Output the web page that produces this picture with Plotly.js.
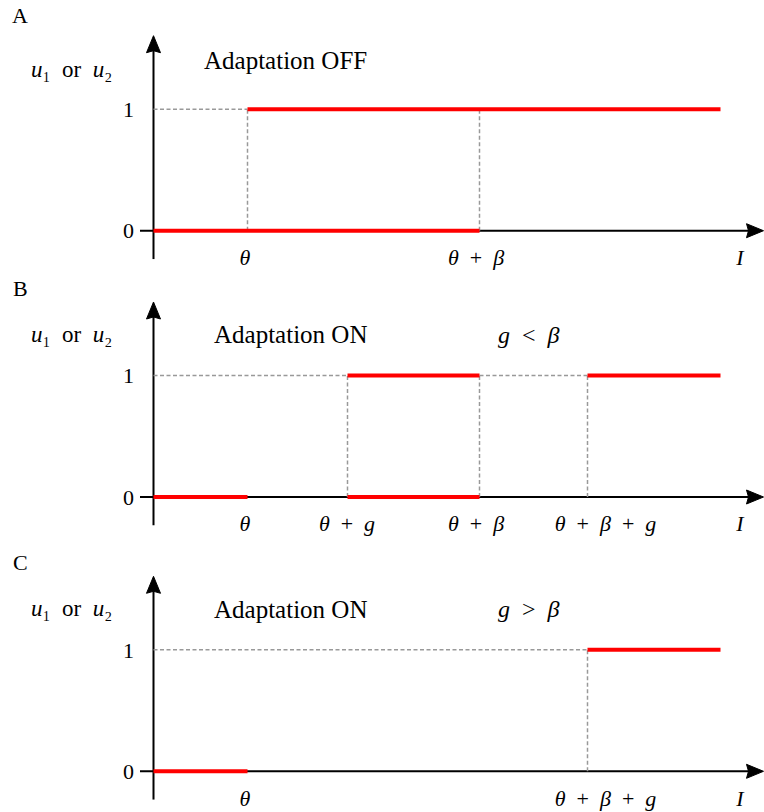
<!DOCTYPE html>
<html>
<head>
<meta charset="utf-8">
<script src="https://cdn.plot.ly/plotly-3.0.1.min.js"></script>
<style>html,body{margin:0;padding:0;background:#fff;}#chart{width:764px;height:812px;}</style>
</head>
<body>
<div id="chart"></div>
<script>
// ---- data (positions on the I axis, abstract units) ----
const theta = 0.94;
const thetaPlusG = 1.94;
const thetaPlusBeta = 3.26;
const thetaPlusBetaPlusG = 4.34;
const iEnd = 5.67;

// red output segments: [I start, I end, level]
const redA = [[0, thetaPlusBeta, 0], [theta, iEnd, 1]];
const redB = [[0, theta, 0], [thetaPlusG, thetaPlusBeta, 0], [thetaPlusG, thetaPlusBeta, 1], [thetaPlusBetaPlusG, iEnd, 1]];
const redC = [[0, theta, 0], [thetaPlusBetaPlusG, iEnd, 1]];

// grey dashed guides: horizontal ones at level 1 [from, to], vertical ones at I
const guideHA = [[0, theta]];
const guideVA = [theta, thetaPlusBeta];
const guideHB = [[0, thetaPlusG], [thetaPlusBeta, thetaPlusBetaPlusG]];
const guideVB = [thetaPlusG, thetaPlusBeta, thetaPlusBetaPlusG];
const guideHC = [[0, thetaPlusBetaPlusG]];
const guideVC = [thetaPlusBetaPlusG];

// tick labels
const SP = '\u2002';
const xTickPosA = [0.915, 3.225, 5.865];
const xTickTextA = ['<i>θ</i>', '<i>θ</i>' + SP + '+' + SP + '<i>β</i>', '<i>I</i>'];
const xTickPosB = [0.915, 1.935, 3.225, 4.52, 5.865];
const xTickTextB = ['<i>θ</i>', '<i>θ</i>' + SP + '+' + SP + '<i>g</i>', '<i>θ</i>' + SP + '+' + SP + '<i>β</i>', '<i>θ</i>' + SP + '+' + SP + '<i>β</i>' + SP + '+' + SP + '<i>g</i>', '<i>I</i>'];
const xTickPosC = [0.915, 4.52, 5.865];
const xTickTextC = ['<i>θ</i>', '<i>θ</i>' + SP + '+' + SP + '<i>β</i>' + SP + '+' + SP + '<i>g</i>', '<i>I</i>'];
const yTickVals = [0, 1];
const yTickText = ['0', '1'];

const panelLetters = ['A', 'B', 'C'];
const panelTitles = ['Adaptation OFF', 'Adaptation ON', 'Adaptation ON'];
const panelConditions = ['', '<i>g</i>' + SP + '&lt;' + SP + '<i>β</i>', '<i>g</i>' + SP + '&gt;' + SP + '<i>β</i>'];
const yLabel = '<i>u</i>\u2081' + SP + 'or' + SP + '<i>u</i>\u2082';

// ---- layout geometry ----
const W = 764, H = 812;
const FONT = '"Liberation Serif", "Times New Roman", serif';
const pxPerX = 100, pxPerY = 121.5;
const originPx = 153.5;
const zeroPx = [230.7, 497, 771.3];
const letterPx = [15, 288, 562];
const yLo = -0.235;
const yHi = [1.89, 1.87, 1.87];
const xRange = [-originPx / pxPerX, (W - originPx) / pxPerX];
const xStart = -0.135;
const xTip = 6.1, yTip = 1.605;
// arrowhead size in pixels
const headLen = 17, headHalf = 7, headNotch = 15;

function segTrace(segs, ax) {
  const xs = [], ys = [];
  segs.forEach(s => { xs.push(s[0], s[1], null); ys.push(s[2], s[2], null); });
  return {x: xs, y: ys, xaxis: 'x' + ax, yaxis: 'y' + ax, mode: 'lines', hoverinfo: 'skip', cliponaxis: false,
          line: {color: '#ff0000', width: 4}, showlegend: false};
}
function guideTrace(hs, vs, ax) {
  const xs = [], ys = [];
  hs.forEach(h => { xs.push(h[0], h[1], null); ys.push(1, 1, null); });
  vs.forEach(v => { xs.push(v, v, null); ys.push(0, 1, null); });
  return {x: xs, y: ys, xaxis: 'x' + ax, yaxis: 'y' + ax, mode: 'lines', hoverinfo: 'skip', cliponaxis: false,
          line: {color: '#999999', width: 1.5, dash: '4px,2.5px'}, showlegend: false};
}
function axisTrace(ax) {
  return {x: [xStart, xTip - 12 / pxPerX, null, 0, 0], y: [0, 0, null, yLo, yTip - 12 / pxPerY],
          xaxis: 'x' + ax, yaxis: 'y' + ax, mode: 'lines', hoverinfo: 'skip', cliponaxis: false,
          line: {color: '#000000', width: 2}, showlegend: false};
}
function headTraces(ax) {
  const dx = 1 / pxPerX, dy = 1 / pxPerY;
  const common = {xaxis: 'x' + ax, yaxis: 'y' + ax, mode: 'lines', fill: 'toself', fillcolor: '#000000',
          hoverinfo: 'skip', cliponaxis: false, line: {color: '#000000', width: 1}, showlegend: false};
  const hx = Object.assign({}, common, {
    x: [xTip, xTip - headLen * dx, xTip - headNotch * dx, xTip - headLen * dx, xTip],
    y: [0, headHalf * dy, 0, -headHalf * dy, 0]});
  const hy = Object.assign({}, common, {
    x: [0, -headHalf * dx, 0, headHalf * dx, 0],
    y: [yTip, yTip - headLen * dy, yTip - headNotch * dy, yTip - headLen * dy, yTip]});
  return [hx, hy];
}

const axIds = ['', '2', '3'];
const reds = [redA, redB, redC];
const guides = [[guideHA, guideVA], [guideHB, guideVB], [guideHC, guideVC]];
const traces = [];
for (let p = 0; p < 3; p++) {
  traces.push(axisTrace(axIds[p]));
  traces.push(guideTrace(guides[p][0], guides[p][1], axIds[p]));
  traces.push(segTrace(reds[p], axIds[p]));
  headTraces(axIds[p]).forEach(t => traces.push(t));
}

const xTicks = [[xTickPosA, xTickTextA], [xTickPosB, xTickTextB], [xTickPosC, xTickTextC]];

const layout = {
  width: W, height: H,
  margin: {l: 0, r: 0, t: 0, b: 0, pad: 0},
  paper_bgcolor: '#ffffff', plot_bgcolor: 'rgba(0,0,0,0)',
  font: {family: FONT, size: 22, color: '#000'},
  showlegend: false,
  annotations: []
};

for (let p = 0; p < 3; p++) {
  const id = axIds[p];
  const z = zeroPx[p];
  const dom = [1 - (z - yLo * pxPerY) / H, 1 - (z - yHi[p] * pxPerY) / H];
  layout['xaxis' + id] = {
    domain: [0, 1], range: xRange, anchor: 'free', position: 1 - z / H,
    showline: false, showgrid: false, zeroline: false, fixedrange: true,
    tickmode: 'array', tickvals: xTicks[p][0], ticktext: xTicks[p][1],
    ticks: 'outside', ticklen: 7, tickcolor: 'rgba(0,0,0,0)',
    tickfont: {family: FONT, size: 22, color: '#000'}
  };
  layout['yaxis' + id] = {
    domain: dom, range: [yLo, yHi[p]], anchor: 'free', position: originPx / W,
    showline: false, showgrid: false, zeroline: false, fixedrange: true,
    tickmode: 'array', tickvals: yTickVals, ticktext: yTickText,
    ticks: 'outside', ticklen: 15, tickcolor: 'rgba(0,0,0,0)',
    tickfont: {family: FONT, size: 22, color: '#000'}
  };
  const xr = 'x' + id, yr = 'y' + id;
  layout.annotations.push({xref: xr, yref: yr, x: -1.335, y: (z - letterPx[p]) / pxPerY, text: panelLetters[p], showarrow: false, font: {family: FONT, size: 22}});
  layout.annotations.push({xref: xr, yref: yr, x: -0.82, y: p === 0 ? 1.33 : 1.34, text: yLabel, showarrow: false, font: {family: FONT, size: 23}});
  layout.annotations.push({xref: xr, yref: yr, x: p === 0 ? 1.32 : 1.365, y: p === 0 ? 1.40 : 1.335, text: panelTitles[p], showarrow: false, font: {family: FONT, size: 25}});
  if (panelConditions[p]) {
    layout.annotations.push({xref: xr, yref: yr, x: 3.755, y: 1.335, text: panelConditions[p], showarrow: false, font: {family: FONT, size: 24}});
  }
}

Plotly.newPlot('chart', traces, layout, {staticPlot: true, displayModeBar: false});
</script>
</body>
</html>
